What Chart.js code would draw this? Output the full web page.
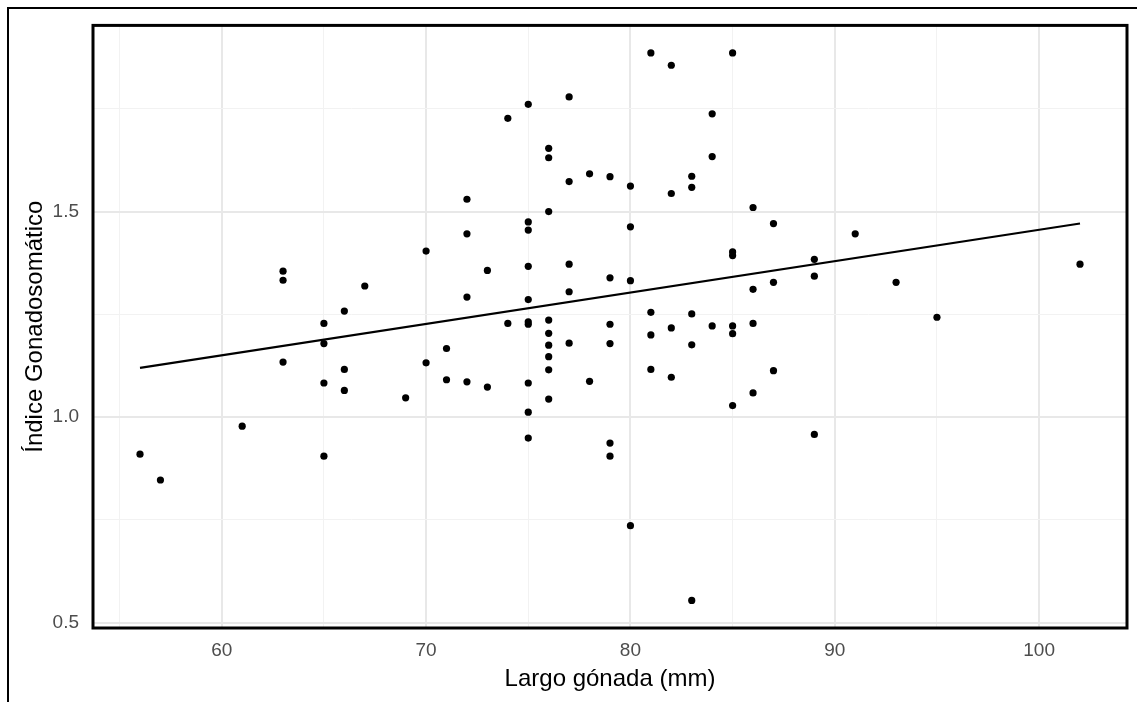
<!DOCTYPE html>
<html>
<head>
<meta charset="utf-8">
<script src="https://cdn.jsdelivr.net/npm/chart.js@4.4.0/dist/chart.umd.min.js"></script>
<style>
  html, body { margin:0; padding:0; background:#fff; overflow:hidden; }
  #wrap { position:relative; width:1137px; height:702px; overflow:hidden; }
  #frame { position:absolute; left:7px; top:7px; width:1200px; height:800px; border-top:2px solid #000; border-left:2px solid #000; }
  canvas { position:absolute; left:0; top:0; }
</style>
</head>
<body>
<div id="wrap">
  <div id="frame"></div>
  <canvas id="scatter" width="1137" height="702"></canvas>
</div>
<script>
// Largo gónada (mm) vs Índice Gonadosomático
const largo = [
  56, 57, 61,
  63, 63, 63,
  65, 65, 65, 65,
  66, 66, 66,
  67, 69,
  70, 70,
  71, 71,
  72, 72, 72, 72,
  73, 73,
  74, 74,
  75, 75, 75, 75, 75, 75, 75, 75, 75, 75,
  76, 76, 76, 76, 76, 76, 76, 76, 76,
  77, 77, 77, 77, 77,
  78, 78,
  79, 79, 79, 79, 79, 79,
  80, 80, 80, 80,
  81, 81, 81, 81,
  82, 82, 82, 82,
  83, 83, 83, 83, 83,
  84, 84, 84,
  85, 85, 85, 85, 85, 85,
  86, 86, 86, 86,
  87, 87, 87,
  89, 89, 89,
  91, 93, 95, 102
];
const igs = [
  0.910, 0.847, 0.978,
  1.355, 1.333, 1.134,
  1.228, 1.179, 1.083, 0.905,
  1.258, 1.116, 1.065,
  1.319, 1.047,
  1.404, 1.132,
  1.167, 1.091,
  1.530, 1.446, 1.292, 1.086,
  1.357, 1.073,
  1.727, 1.228,
  1.761, 1.475, 1.455, 1.367, 1.286, 1.232, 1.226, 1.083, 1.012, 0.949,
  1.654, 1.631, 1.500, 1.236, 1.204, 1.175, 1.147, 1.115, 1.044,
  1.779, 1.573, 1.372, 1.305, 1.180,
  1.592, 1.087,
  1.585, 1.339, 1.226, 1.179, 0.937, 0.905,
  1.562, 1.463, 1.332, 0.736,
  1.886, 1.255, 1.200, 1.116,
  1.856, 1.544, 1.217, 1.097,
  1.586, 1.559, 1.251, 1.176, 0.554,
  1.738, 1.634, 1.222,
  1.886, 1.402, 1.393, 1.222, 1.203, 1.028,
  1.510, 1.311, 1.228, 1.059,
  1.471, 1.328, 1.113,
  1.384, 1.343, 0.958,
  1.446, 1.328, 1.243, 1.372
];

const xTicks = [55, 60, 65, 70, 75, 80, 85, 90, 95, 100];
const xMajor = [60, 70, 80, 90, 100];
const yTicks = [0.5, 0.75, 1.0, 1.25, 1.5, 1.75];
const yMajor = [0.5, 1.0, 1.5];

// least squares fit for the trend line
function fitLine(xs, ys){
  const n = xs.length;
  const mx = xs.reduce((a,b)=>a+b,0)/n, my = ys.reduce((a,b)=>a+b,0)/n;
  let sxy = 0, sxx = 0;
  xs.forEach((x,i)=>{ sxy += (x-mx)*(ys[i]-my); sxx += (x-mx)*(x-mx); });
  const b = sxy/sxx, a = my - b*mx;
  const x0 = Math.min(...xs), x1 = Math.max(...xs);
  return [{x:x0, y:a+b*x0}, {x:x1, y:a+b*x1}];
}

const points = largo.map((x,i)=>({x, y:igs[i]}));
const FONT = '"Liberation Sans", Arial, sans-serif';

const isMajor = (list, v) => list.some(m => Math.abs(m - v) < 1e-6);

// black box around the panel
const panelBox = {
  id:'panelBox',
  afterDraw(chart){
    const {ctx, chartArea:a} = chart;
    ctx.save();
    ctx.strokeStyle = '#000';
    ctx.lineWidth = 3;
    ctx.strokeRect(a.left, a.top, a.right - a.left, a.bottom - a.top);
    ctx.restore();
  }
};

new Chart(document.getElementById('scatter'), {
  type:'scatter',
  data:{
    datasets:[
      {
        label:'datos', data:points,
        backgroundColor:'#000', borderWidth:0,
        pointRadius:3.6, pointHoverRadius:3.6
      },
      {
        type:'line', label:'ajuste', data:fitLine(largo, igs),
        borderColor:'#000', borderWidth:2.2, pointRadius:0, fill:false, tension:0
      }
    ]
  },
  options:{
    responsive:false, animation:false, devicePixelRatio:1,
    layout:{padding:{left:0, top:23, right:10, bottom:0}},
    plugins:{legend:{display:false}, tooltip:{enabled:false}},
    scales:{
      x:{
        type:'linear', min:53.7, max:104.3,
        afterBuildTicks: s => { s.ticks = xTicks.map(v=>({value:v})); },
        afterFit: s => { s.height = 74; },
        border:{display:false},
        grid:{
          drawTicks:false,
          color: c => isMajor(xMajor, c.tick.value) ? '#e8e8e8' : '#f2f2f2',
          lineWidth: c => isMajor(xMajor, c.tick.value) ? 2 : 1
        },
        ticks:{
          autoSkip:false, maxRotation:0, padding:11,
          color:'#4d4d4d', font:{family:FONT, size:19},
          callback: v => isMajor(xMajor, v) ? String(v) : ''
        },
        title:{
          display:true, text:'Largo gónada (mm)', color:'#000',
          font:{family:FONT, size:24}, padding:{top:0, bottom:8}
        }
      },
      y:{
        type:'linear', min:0.487, max:1.953,
        afterBuildTicks: s => { s.ticks = yTicks.map(v=>({value:v})); },
        afterFit: s => { s.width = 93; },
        border:{display:false},
        grid:{
          drawTicks:false,
          color: c => isMajor(yMajor, c.tick.value) ? '#e8e8e8' : '#f2f2f2',
          lineWidth: c => isMajor(yMajor, c.tick.value) ? 2 : 1
        },
        ticks:{
          autoSkip:false, padding:14,
          color:'#4d4d4d', font:{family:FONT, size:19},
          callback: v => isMajor(yMajor, v) ? v.toFixed(1) : ''
        },
        title:{
          display:true, text:'Índice Gonadosomático', color:'#000',
          font:{family:FONT, size:24}, padding:{top:21, bottom:0}
        }
      }
    }
  },
  plugins:[panelBox]
});
</script>
</body>
</html>
